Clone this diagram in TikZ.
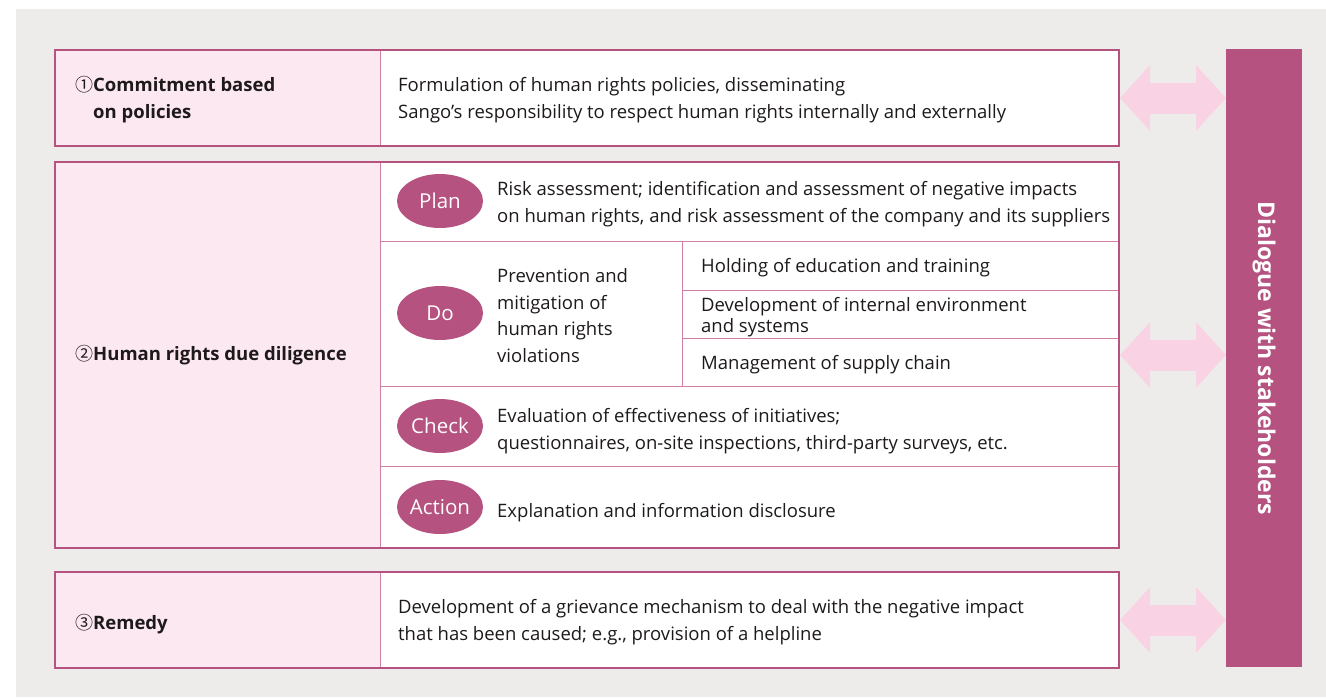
\documentclass[tikz,border=0pt]{standalone}
\usepackage{fontspec}
\setmainfont{Open Sans}
\newfontfamily\circfont{Noto Sans CJK JP}
\usetikzlibrary{positioning,shapes.geometric,arrows.meta}
\definecolor{bgcolor}{RGB}{237,236,234}
\definecolor{framecolor}{RGB}{181,82,128}
\definecolor{rulecolor}{RGB}{206,128,165}
\definecolor{cellcolor}{RGB}{252,232,241}
\definecolor{arrowcolor}{RGB}{249,211,228}
\definecolor{textcolor}{RGB}{30,26,27}
\newcommand{\circnum}[1]{{\mdseries\circfont\fontsize{18}{18}\selectfont #1}}

\begin{document}
\begin{tikzpicture}[x=1pt, y=-1pt,
		% Cell styles
		labelcell/.style={rectangle, anchor=north west, inner sep=0pt, minimum width=326pt,
			fill=cellcolor, draw=rulecolor, line width=0.8pt},
		bodycell/.style={rectangle, anchor=north west, inner sep=0pt,
			fill=white, draw=rulecolor, line width=0.8pt},
		outerframe/.style={rectangle, anchor=north west, inner sep=0pt, minimum width=1064pt,
			draw=framecolor, line width=2pt},
		dialoguebar/.style={rectangle, anchor=north west, inner sep=0pt, minimum width=76pt,
			minimum height=618pt, fill=framecolor},
		% Phase styles
		phase/.style={ellipse, minimum width=86pt, minimum height=54pt, inner sep=0pt,
			fill=framecolor, text=white, font=\fontsize{20.5}{20.5}\selectfont},
		% Text styles
		bodytext/.style={anchor=west, align=left, inner sep=0pt, text=textcolor,
			font=\fontsize{18.5}{26.8}\selectfont},
		labeltext/.style={anchor=west, align=left, inner sep=0pt, text=textcolor,
			font=\fontsize{18.5}{27}\selectfont\bfseries},
		% Arrow styles
		biarrow/.style={arrowcolor, line width=31pt,
			{Triangle[length=30pt,width=64pt]}-{Triangle[length=30pt,width=64pt]}}
		]
		
		% Background
		\useasboundingbox (0,0) rectangle (1326,697);
		\fill[bgcolor] (16,9) rectangle (1326,697);
		
		% Commitment block
		\node[labelcell, minimum height=96pt] (commit_label) at (54,49) {};
		\node[bodycell, minimum width=738pt, minimum height=96pt] (commit_body) at (380,49) {};
		\node[outerframe, minimum height=96pt] (commit_frame) at (54,49) {};
		
		% Due diligence block
		\node[labelcell, minimum height=386pt] (dd_label) at (54,161) {};
		\node[bodycell, minimum width=738pt, minimum height=80pt] (plan_row) at (380,161) {};
		\node[bodycell, minimum width=302pt, minimum height=145pt] (do_row) at (380,241) {};
		\node[bodycell, minimum width=436pt, minimum height=48.5pt] (do_sub1) at (682,241) {};
		\node[bodycell, minimum width=436pt, minimum height=48.5pt] (do_sub2) at (682,289.5) {};
		\node[bodycell, minimum width=436pt, minimum height=48pt] (do_sub3) at (682,338) {};
		\node[bodycell, minimum width=738pt, minimum height=80pt] (check_row) at (380,386) {};
		\node[bodycell, minimum width=738pt, minimum height=81pt] (action_row) at (380,466) {};
		\node[outerframe, minimum height=386pt] (dd_frame) at (54,161) {};
		
		% Remedy block
		\node[labelcell, minimum height=96pt] (remedy_label) at (54,571) {};
		\node[bodycell, minimum width=738pt, minimum height=96pt] (remedy_body) at (380,571) {};
		\node[outerframe, minimum height=96pt] (remedy_frame) at (54,571) {};
		
		% Dialogue bar
		\node[dialoguebar] (dialogue) at (1226,49) {};
		\node[rotate=-90, text=white, font=\fontsize{23}{23}\selectfont\bfseries]
			(dialogue_text) at (dialogue.center) {Dialogue with stakeholders};
		
		% Block labels
		\node[labeltext] (commit_text) at (75,99.5)
			{\circnum{①}Commitment based\\\phantom{\circnum{①}}on policies};
		\node[labeltext] (dd_text) at (75,355) {\circnum{②}Human rights due diligence};
		\node[labeltext] (remedy_text) at (75,624) {\circnum{③}Remedy};
		
		% Block contents
		\node[bodytext] (commit_desc) at (398,100)
			{Formulation of human rights policies, disseminating\\Sango’s responsibility to respect human rights internally and externally};
		\node[bodytext] (remedy_desc) at (398,622)
			{Development of a grievance mechanism to deal with the negative impact\\that has been caused; e.g., provision of a helpline};
		
		% PDCA phases
		\node[phase] (plan) at (440,201) {Plan};
		\node[bodytext] (plan_desc) at (497,204)
			{Risk assessment; identification and assessment of negative impacts\\on human rights, and risk assessment of the company and its suppliers};
		
		\node[phase] (do) at (440,313) {Do};
		\node[bodytext] (do_desc) at (497,315.5)
			{Prevention and\\mitigation of\\human rights\\violations};
		\node[bodytext] (do_desc1) at (701,268) {Holding of education and training};
		\node[bodytext, font=\fontsize{18.5}{21}\selectfont] (do_desc2) at (701,317.5)
			{Development of internal environment\\and systems};
		\node[bodytext] (do_desc3) at (701,365) {Management of supply chain};
		
		\node[phase] (check) at (440,426) {Check};
		\node[bodytext] (check_desc) at (497,431.5)
			{Evaluation of effectiveness of initiatives;\\questionnaires, on-site inspections, third-party surveys, etc.};
		
		\node[phase] (action) at (440,507) {Action};
		\node[bodytext] (action_desc) at (497,513) {Explanation and information disclosure};
		
		% Dialogue arrows
		\draw[biarrow] (commit_frame.east) -- (dialogue.west |- commit_frame.east);
		\draw[biarrow] (dd_frame.east) -- (dialogue.west |- dd_frame.east);
		\draw[biarrow] (remedy_frame.east) -- (dialogue.west |- remedy_frame.east);
		
	\end{tikzpicture}
\end{document}
